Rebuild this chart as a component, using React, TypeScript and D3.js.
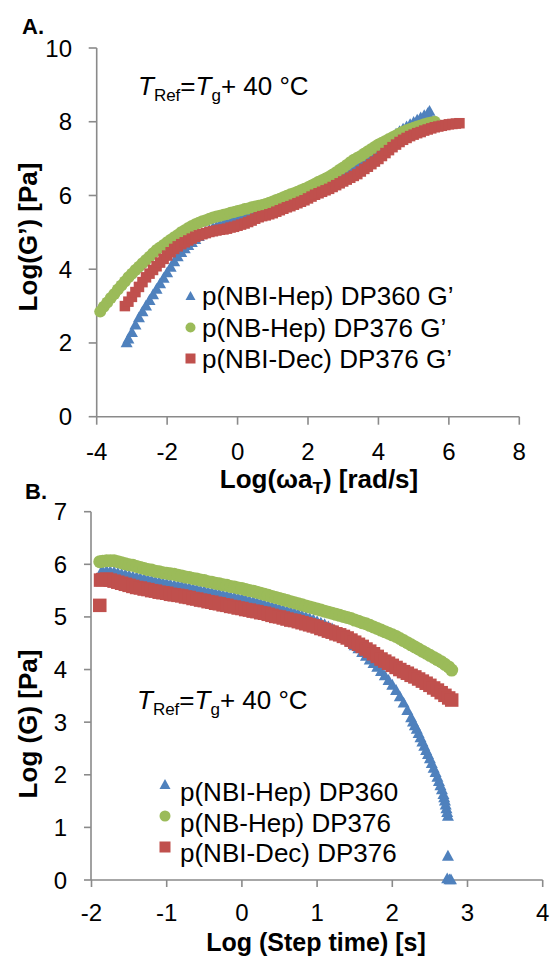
import React from "react";
import * as d3 from "d3";

// ---------- Panel A data: Log(G') vs Log(omega aT) ----------
const aBlue: [number, number][] = [
  [-3.15, 2.0], [-3.1, 2.1], [-3.0, 2.28], [-2.9, 2.48], [-2.8, 2.68], [-2.7, 2.84], [-2.6, 3.0],
  [-2.5, 3.15], [-2.4, 3.3], [-2.3, 3.45], [-2.2, 3.6], [-2.1, 3.75], [-2.0, 3.9], [-1.9, 4.05],
  [-1.8, 4.2], [-1.7, 4.33], [-1.6, 4.45], [-1.5, 4.55], [-1.4, 4.64], [-1.3, 4.72], [-1.2, 4.8],
  [-1.1, 4.88], [-1.0, 4.95], [-0.9, 5.01], [-0.8, 5.06], [-0.7, 5.11], [-0.6, 5.15], [-0.5, 5.19],
  [-0.4, 5.22], [-0.3, 5.25], [-0.2, 5.28], [-0.1, 5.31], [0.0, 5.34], [0.1, 5.37], [0.2, 5.4],
  [0.3, 5.43], [0.4, 5.46], [0.5, 5.49], [0.6, 5.52], [0.7, 5.55], [0.8, 5.58], [0.9, 5.61],
  [1.0, 5.64], [1.1, 5.67], [1.2, 5.7], [1.3, 5.73], [1.4, 5.77], [1.5, 5.81], [1.6, 5.85],
  [1.7, 5.89], [1.8, 5.93], [1.9, 5.97], [2.0, 6.02], [2.1, 6.07], [2.2, 6.12], [2.3, 6.17],
  [2.4, 6.22], [2.5, 6.27], [2.6, 6.33], [2.7, 6.39], [2.8, 6.45], [2.9, 6.51], [3.0, 6.58],
  [3.1, 6.65], [3.2, 6.72], [3.3, 6.79], [3.4, 6.86], [3.5, 6.93], [3.6, 7.0], [3.7, 7.07],
  [3.8, 7.14], [3.9, 7.21], [4.0, 7.28], [4.1, 7.35], [4.2, 7.43], [4.3, 7.5], [4.4, 7.58],
  [4.5, 7.66], [4.6, 7.73], [4.7, 7.8], [4.8, 7.86], [4.9, 7.92], [5.0, 7.98], [5.1, 8.04],
  [5.2, 8.1], [5.3, 8.16], [5.4, 8.22], [5.45, 8.28],
];
const aGreen: [number, number][] = [
  [-3.9, 2.85], [-3.8, 2.98], [-3.7, 3.1], [-3.6, 3.22], [-3.5, 3.33], [-3.4, 3.45], [-3.3, 3.56],
  [-3.2, 3.67], [-3.1, 3.78], [-3.0, 3.88], [-2.9, 3.98], [-2.8, 4.07], [-2.7, 4.16], [-2.6, 4.25],
  [-2.5, 4.34], [-2.4, 4.43], [-2.3, 4.52], [-2.2, 4.59], [-2.1, 4.66], [-2.0, 4.73], [-1.9, 4.8],
  [-1.8, 4.87], [-1.7, 4.93], [-1.6, 5.0], [-1.5, 5.06], [-1.4, 5.12], [-1.3, 5.17], [-1.2, 5.22],
  [-1.1, 5.26], [-1.0, 5.3], [-0.9, 5.33], [-0.8, 5.37], [-0.7, 5.4], [-0.6, 5.43], [-0.5, 5.45],
  [-0.4, 5.48], [-0.3, 5.5], [-0.2, 5.53], [-0.1, 5.55], [0.0, 5.58], [0.1, 5.6], [0.2, 5.63],
  [0.3, 5.65], [0.4, 5.68], [0.5, 5.7], [0.6, 5.72], [0.7, 5.74], [0.8, 5.77], [0.9, 5.8],
  [1.0, 5.84], [1.1, 5.88], [1.2, 5.91], [1.3, 5.95], [1.4, 5.99], [1.5, 6.03], [1.6, 6.06],
  [1.7, 6.1], [1.8, 6.14], [1.9, 6.18], [2.0, 6.22], [2.1, 6.27], [2.2, 6.32], [2.3, 6.37],
  [2.4, 6.41], [2.5, 6.46], [2.6, 6.51], [2.7, 6.57], [2.8, 6.63], [2.9, 6.7], [3.0, 6.76],
  [3.1, 6.83], [3.2, 6.9], [3.3, 6.97], [3.4, 7.02], [3.5, 7.07], [3.6, 7.14], [3.7, 7.2],
  [3.8, 7.26], [3.9, 7.32], [4.0, 7.38], [4.1, 7.43], [4.2, 7.48], [4.3, 7.53], [4.4, 7.58],
  [4.5, 7.63], [4.6, 7.68], [4.7, 7.73], [4.8, 7.77], [4.9, 7.8], [5.0, 7.84], [5.1, 7.87],
  [5.2, 7.9], [5.3, 7.93], [5.4, 7.96], [5.5, 7.98], [5.6, 8.0],
];
const aRed: [number, number][] = [
  [-3.2, 3.0], [-3.1, 3.12], [-3.0, 3.25], [-2.9, 3.38], [-2.8, 3.52], [-2.7, 3.65], [-2.6, 3.78],
  [-2.5, 3.88], [-2.4, 3.98], [-2.3, 4.08], [-2.2, 4.18], [-2.1, 4.28], [-2.0, 4.37], [-1.9, 4.46],
  [-1.8, 4.55], [-1.7, 4.62], [-1.6, 4.68], [-1.5, 4.73], [-1.4, 4.78], [-1.3, 4.83], [-1.2, 4.88],
  [-1.1, 4.92], [-1.0, 4.95], [-0.9, 4.98], [-0.8, 5.01], [-0.7, 5.03], [-0.6, 5.05], [-0.5, 5.07],
  [-0.4, 5.08], [-0.3, 5.1], [-0.2, 5.13], [-0.1, 5.15], [0.0, 5.18], [0.1, 5.21], [0.2, 5.24],
  [0.3, 5.28], [0.4, 5.32], [0.5, 5.37], [0.6, 5.41], [0.7, 5.44], [0.8, 5.46], [0.9, 5.49],
  [1.0, 5.52], [1.1, 5.56], [1.2, 5.6], [1.3, 5.64], [1.4, 5.68], [1.5, 5.71], [1.6, 5.75],
  [1.7, 5.79], [1.8, 5.83], [1.9, 5.87], [2.0, 5.92], [2.1, 5.97], [2.2, 6.02], [2.3, 6.06],
  [2.4, 6.1], [2.5, 6.14], [2.6, 6.18], [2.7, 6.23], [2.8, 6.28], [2.9, 6.33], [3.0, 6.38],
  [3.1, 6.43], [3.2, 6.48], [3.3, 6.53], [3.4, 6.58], [3.5, 6.65], [3.6, 6.72], [3.7, 6.78],
  [3.8, 6.85], [3.9, 6.92], [4.0, 6.99], [4.1, 7.07], [4.2, 7.15], [4.3, 7.23], [4.4, 7.31],
  [4.5, 7.38], [4.6, 7.45], [4.7, 7.51], [4.8, 7.56], [4.9, 7.61], [5.0, 7.65], [5.1, 7.69],
  [5.2, 7.72], [5.3, 7.76], [5.4, 7.79], [5.5, 7.82], [5.6, 7.85], [5.7, 7.87], [5.8, 7.89],
  [5.9, 7.91], [6.0, 7.93], [6.1, 7.94], [6.2, 7.95], [6.3, 7.96],
];

// ---------- Panel B data: Log(G) vs Log(step time) ----------
const bBlue: [number, number][] = [
  [-1.87, 5.85], [-1.85, 5.86], [-1.8, 5.87], [-1.75, 5.86], [-1.7, 5.85], [-1.65, 5.83], [-1.6, 5.81],
  [-1.55, 5.8], [-1.5, 5.78], [-1.45, 5.76], [-1.4, 5.75], [-1.35, 5.73], [-1.3, 5.72], [-1.25, 5.7],
  [-1.2, 5.69], [-1.15, 5.67], [-1.1, 5.66], [-1.05, 5.64], [-1.0, 5.63], [-0.95, 5.61], [-0.9, 5.6],
  [-0.85, 5.59], [-0.8, 5.58], [-0.75, 5.56], [-0.7, 5.55], [-0.65, 5.53], [-0.6, 5.52], [-0.55, 5.5],
  [-0.5, 5.49], [-0.45, 5.47], [-0.4, 5.46], [-0.35, 5.44], [-0.3, 5.43], [-0.25, 5.41], [-0.2, 5.4],
  [-0.15, 5.38], [-0.1, 5.37], [-0.05, 5.35], [0.0, 5.34], [0.05, 5.32], [0.1, 5.3], [0.15, 5.29],
  [0.2, 5.27], [0.25, 5.25], [0.3, 5.23], [0.35, 5.21], [0.4, 5.19], [0.45, 5.17], [0.5, 5.15],
  [0.55, 5.13], [0.6, 5.11], [0.65, 5.09], [0.7, 5.07], [0.75, 5.05], [0.8, 5.02], [0.85, 5.0],
  [0.9, 4.97], [0.95, 4.94], [1.0, 4.91], [1.05, 4.88], [1.1, 4.85], [1.15, 4.81], [1.2, 4.77],
  [1.25, 4.73], [1.3, 4.68], [1.35, 4.63], [1.4, 4.57], [1.45, 4.51], [1.5, 4.45], [1.55, 4.39],
  [1.6, 4.32], [1.65, 4.25], [1.7, 4.18], [1.75, 4.11], [1.8, 4.04], [1.85, 3.96], [1.9, 3.88],
  [1.95, 3.79], [2.0, 3.7], [2.05, 3.6], [2.1, 3.48], [2.15, 3.36], [2.2, 3.22], [2.25, 3.08],
  [2.275, 3.0], [2.3, 2.93], [2.325, 2.86], [2.35, 2.78], [2.375, 2.7], [2.4, 2.62], [2.425, 2.54],
  [2.45, 2.46], [2.475, 2.38], [2.5, 2.3], [2.525, 2.21], [2.55, 2.12], [2.575, 2.04], [2.6, 1.95],
  [2.62, 1.87], [2.64, 1.79], [2.66, 1.71], [2.68, 1.62], [2.69, 1.56], [2.7, 1.5], [2.71, 1.42],
  [2.72, 1.35], [2.73, 1.28], [2.74, 1.21],
  [2.74, 0.45], [2.73, 0.02], [2.76, 0.0], [2.78, 0.0],
];
const bGreen: [number, number][] = [
  [-1.89, 6.05], [-1.85, 6.06], [-1.8, 6.07], [-1.75, 6.07], [-1.7, 6.07], [-1.65, 6.05], [-1.6, 6.03],
  [-1.55, 6.01], [-1.5, 5.99], [-1.45, 5.98], [-1.4, 5.96], [-1.35, 5.94], [-1.3, 5.92], [-1.25, 5.9],
  [-1.2, 5.89], [-1.15, 5.87], [-1.1, 5.86], [-1.05, 5.84], [-1.0, 5.83], [-0.95, 5.82], [-0.9, 5.81],
  [-0.85, 5.79], [-0.8, 5.78], [-0.75, 5.76], [-0.7, 5.75], [-0.65, 5.73], [-0.6, 5.72], [-0.55, 5.7],
  [-0.5, 5.69], [-0.45, 5.67], [-0.4, 5.66], [-0.35, 5.64], [-0.3, 5.63], [-0.25, 5.61], [-0.2, 5.6],
  [-0.15, 5.58], [-0.1, 5.57], [-0.05, 5.55], [0.0, 5.54], [0.05, 5.52], [0.1, 5.5], [0.15, 5.49],
  [0.2, 5.47], [0.25, 5.45], [0.3, 5.43], [0.35, 5.41], [0.4, 5.39], [0.45, 5.37], [0.5, 5.35],
  [0.55, 5.33], [0.6, 5.31], [0.65, 5.29], [0.7, 5.27], [0.75, 5.25], [0.8, 5.23], [0.85, 5.21],
  [0.9, 5.19], [0.95, 5.17], [1.0, 5.15], [1.05, 5.13], [1.1, 5.11], [1.15, 5.09], [1.2, 5.07],
  [1.25, 5.05], [1.3, 5.03], [1.35, 5.01], [1.4, 4.99], [1.45, 4.97], [1.5, 4.94], [1.55, 4.92],
  [1.6, 4.89], [1.65, 4.87], [1.7, 4.84], [1.75, 4.81], [1.8, 4.78], [1.85, 4.75], [1.9, 4.72],
  [1.95, 4.69], [2.0, 4.66], [2.05, 4.63], [2.1, 4.59], [2.15, 4.55], [2.2, 4.51], [2.25, 4.47],
  [2.3, 4.43], [2.35, 4.39], [2.4, 4.35], [2.45, 4.31], [2.5, 4.27], [2.55, 4.23], [2.6, 4.19],
  [2.65, 4.15], [2.7, 4.1], [2.75, 4.05], [2.79, 3.99],
];
const bRed: [number, number][] = [
  [-1.89, 5.22], [-1.88, 5.7], [-1.85, 5.71], [-1.8, 5.72], [-1.75, 5.7], [-1.7, 5.68], [-1.65, 5.66],
  [-1.6, 5.64], [-1.55, 5.62], [-1.5, 5.6], [-1.45, 5.58], [-1.4, 5.56], [-1.35, 5.55], [-1.3, 5.53],
  [-1.25, 5.52], [-1.2, 5.5], [-1.15, 5.49], [-1.1, 5.47], [-1.05, 5.46], [-1.0, 5.45], [-0.95, 5.43],
  [-0.9, 5.42], [-0.85, 5.41], [-0.8, 5.4], [-0.75, 5.38], [-0.7, 5.37], [-0.65, 5.35], [-0.6, 5.34],
  [-0.55, 5.32], [-0.5, 5.31], [-0.45, 5.29], [-0.4, 5.28], [-0.35, 5.26], [-0.3, 5.25], [-0.25, 5.23],
  [-0.2, 5.22], [-0.15, 5.2], [-0.1, 5.19], [-0.05, 5.17], [0.0, 5.16], [0.05, 5.14], [0.1, 5.13],
  [0.15, 5.11], [0.2, 5.1], [0.25, 5.08], [0.3, 5.07], [0.35, 5.05], [0.4, 5.03], [0.45, 5.01],
  [0.5, 5.0], [0.55, 4.98], [0.6, 4.96], [0.65, 4.94], [0.7, 4.93], [0.75, 4.91], [0.8, 4.89],
  [0.85, 4.87], [0.9, 4.85], [0.95, 4.83], [1.0, 4.81], [1.05, 4.78], [1.1, 4.76], [1.15, 4.73],
  [1.2, 4.71], [1.25, 4.68], [1.3, 4.66], [1.35, 4.63], [1.4, 4.6], [1.45, 4.56], [1.5, 4.52],
  [1.55, 4.48], [1.6, 4.44], [1.65, 4.39], [1.7, 4.35], [1.75, 4.3], [1.8, 4.25], [1.85, 4.2],
  [1.9, 4.16], [1.95, 4.12], [2.0, 4.08], [2.05, 4.04], [2.1, 4.0], [2.15, 3.96], [2.2, 3.93],
  [2.25, 3.89], [2.3, 3.86], [2.35, 3.82], [2.4, 3.78], [2.45, 3.74], [2.5, 3.7], [2.55, 3.65],
  [2.6, 3.61], [2.65, 3.56], [2.7, 3.51], [2.75, 3.46], [2.79, 3.42],
];

// ---------- ticks / labels ----------
const aXTicks = [-4, -2, 0, 2, 4, 6, 8];
const aYTicks = [0, 2, 4, 6, 8, 10];
const bXTicks = [-2, -1, 0, 1, 2, 3, 4];
const bYTicks = [0, 1, 2, 3, 4, 5, 6, 7];
const aLegend = ["p(NBI-Hep) DP360 G\u2019", "p(NB-Hep) DP376 G\u2019", "p(NBI-Dec) DP376 G\u2019"];
const bLegend = ["p(NBI-Hep) DP360", "p(NB-Hep) DP376", "p(NBI-Dec) DP376"];

const BLUE = "#4F81BD";
const GREEN = "#9BBB59";
const RED = "#C0504D";
const AXIS = "#8a8a8a";
const FONT = "'Liberation Sans', Arial, sans-serif";

type Kind = "tri" | "circ" | "sq";

function Marker({ kind, x, y, s, color }: { kind: Kind; x: number; y: number; s: number; color: string }) {
  if (kind === "tri") {
    const h = s * 0.9;
    const d = `M${x},${y - h * 0.6}L${x + s / 2},${y + h * 0.4}L${x - s / 2},${y + h * 0.4}Z`;
    return <path d={d} fill={color} />;
  }
  if (kind === "circ") return <circle cx={x} cy={y} r={s / 2} fill={color} />;
  return <rect x={x - s / 2} y={y - s / 2} width={s} height={s} fill={color} />;
}

function Series({ data, sx, sy, kind, s, color }: any) {
  return (
    <g>
      {data.map((d: [number, number], i: number) => (
        <Marker key={i} kind={kind} x={sx(d[0])} y={sy(d[1])} s={s} color={color} />
      ))}
    </g>
  );
}

function Annotation({ x, y }: { x: number; y: number }) {
  return (
    <text x={x} y={y} fontSize={26} fontFamily={FONT} fill="#000">
      <tspan fontStyle="italic">T</tspan>
      <tspan fontSize={17} dy={6}>Ref</tspan>
      <tspan dy={-6}>=</tspan>
      <tspan fontStyle="italic">T</tspan>
      <tspan fontSize={17} dy={6}>g</tspan>
      <tspan dy={-6}>+ 40 °C</tspan>
    </text>
  );
}

export default function App() {
  const xA = d3.scaleLinear().domain([-4, 8]).range([96.7, 519.3]);
  const yA = d3.scaleLinear().domain([0, 10]).range([416.7, 48]);
  const xB = d3.scaleLinear().domain([-2, 4]).range([91.5, 542.7]);
  const yB = d3.scaleLinear().domain([0, 7]).range([880, 511.7]);

  const kinds: Kind[] = ["tri", "circ", "sq"];
  const colors = [BLUE, GREEN, RED];

  return (
    <svg width={550} height={957} style={{ position: "absolute", left: 0, top: 0, background: "#fff" }}
      fontFamily={FONT}>
      <rect width={550} height={957} fill="#fff" />

      {/* ===== Panel A ===== */}
      <text x={22} y={34} fontSize={22} fontWeight="bold">A.</text>
      <line x1={xA(-4)} x2={xA(-4)} y1={yA(10)} y2={yA(0)} stroke={AXIS} strokeWidth={1.6} />
      <line x1={xA(-4)} x2={xA(8)} y1={yA(0)} y2={yA(0)} stroke={AXIS} strokeWidth={1.6} />
      {aYTicks.map((t) => (
        <g key={"ay" + t}>
          <line x1={xA(-4) - 8} x2={xA(-4)} y1={yA(t)} y2={yA(t)} stroke={AXIS} strokeWidth={1.6} />
          <text x={72} y={yA(t) + 8.5} fontSize={24} textAnchor="end">{t}</text>
        </g>
      ))}
      {aXTicks.map((t) => (
        <g key={"ax" + t}>
          <line x1={xA(t)} x2={xA(t)} y1={yA(0)} y2={yA(0) + 8} stroke={AXIS} strokeWidth={1.6} />
          <text x={xA(t)} y={460} fontSize={24} textAnchor="middle">{t}</text>
        </g>
      ))}
      <text x={319} y={488} fontSize={26} fontWeight="bold" textAnchor="middle">
        Log(ωa<tspan fontSize={17} dy={6}>T</tspan><tspan dy={-6}>) [rad/s]</tspan>
      </text>
      <text transform="translate(37,237) rotate(-90)" fontSize={26} fontWeight="bold" textAnchor="middle">
        Log(G’) [Pa]
      </text>
      <Annotation x={138} y={95} />

      <Series data={aBlue} sx={xA} sy={yA} kind="tri" s={12} color={BLUE} />
      <Series data={aGreen} sx={xA} sy={yA} kind="circ" s={12} color={GREEN} />
      <Series data={aRed} sx={xA} sy={yA} kind="sq" s={10.5} color={RED} />

      {aLegend.map((l, i) => (
        <g key={"al" + i}>
          <Marker kind={kinds[i]} x={190.5} y={296.5 + i * 31} s={10} color={colors[i]} />
          <text x={202} y={305 + i * 31.5} fontSize={26}>{l}</text>
        </g>
      ))}

      {/* ===== Panel B ===== */}
      <text x={25} y={499} fontSize={22} fontWeight="bold">B.</text>
      <line x1={91} x2={91} y1={yB(7)} y2={yB(0)} stroke={AXIS} strokeWidth={1.6} />
      <line x1={91} x2={xB(4)} y1={yB(0)} y2={yB(0)} stroke={AXIS} strokeWidth={1.6} />
      {bYTicks.map((t) => (
        <g key={"by" + t}>
          <line x1={84} x2={91} y1={yB(t)} y2={yB(t)} stroke={AXIS} strokeWidth={1.6} />
          <text x={67} y={yB(t) + 8.5} fontSize={24} textAnchor="end">{t}</text>
        </g>
      ))}
      {bXTicks.map((t) => (
        <g key={"bx" + t}>
          <line x1={xB(t)} x2={xB(t)} y1={yB(0)} y2={yB(0) + 7} stroke={AXIS} strokeWidth={1.6} />
          <text x={xB(t)} y={921} fontSize={24} textAnchor="middle">{t}</text>
        </g>
      ))}
      <text x={316} y={951} fontSize={25} fontWeight="bold" textAnchor="middle">Log (Step time) [s]</text>
      <text transform="translate(37,724) rotate(-90)" fontSize={26} fontWeight="bold" textAnchor="middle">
        Log (G) [Pa]
      </text>
      <Annotation x={137} y={709} />

      <Series data={bBlue} sx={xB} sy={yB} kind="tri" s={12} color={BLUE} />
      <Series data={bGreen} sx={xB} sy={yB} kind="circ" s={13} color={GREEN} />
      <Series data={bRed} sx={xB} sy={yB} kind="sq" s={13.5} color={RED} />

      {bLegend.map((l, i) => (
        <g key={"bl" + i}>
          <Marker kind={kinds[i]} x={165} y={785 + i * 31} s={11} color={colors[i]} />
          <text x={180} y={801 + i * 30.5} fontSize={26}>{l}</text>
        </g>
      ))}
    </svg>
  );
}
